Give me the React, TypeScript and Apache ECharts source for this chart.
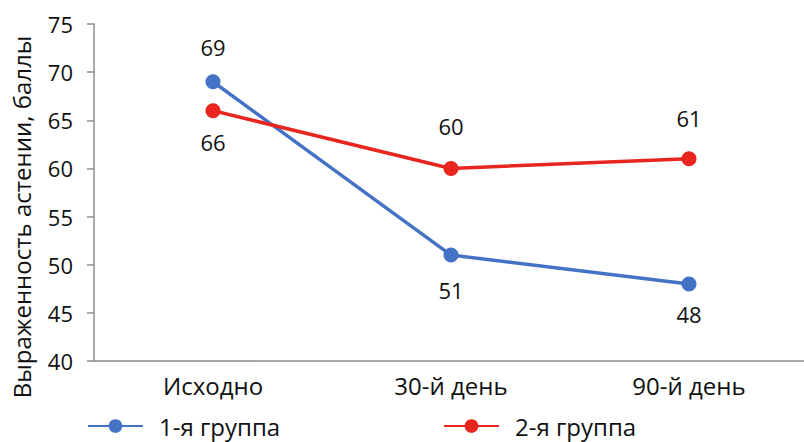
import React, { useEffect, useRef } from "react";
import * as echarts from "echarts";

const categories = ["Исходно", "30-й день", "90-й день"];
const group1 = [69, 51, 48];
const group2 = [66, 60, 61];
const group1LabelPos = ["top", "bottom", "bottom"];
const group2LabelPos = ["bottom", "top", "top"];
const seriesNames = ["1-я группа", "2-я группа"];
const yTitle = "Выраженность астении, баллы";

const FONT = "'Open Sans', 'Noto Sans', sans-serif";
const BLUE = "#4472C4";
const RED = "#E8251F";
const AXIS = "#8c8c8c";
const TEXT = "#111";

// gap between marker and its value label, per point
const group1Gap = [16, 16, 12];
const group2Gap = [13, 24, 22];

const pointData = (values: number[], positions: string[], gaps: number[]) =>
  values.map((v, i) => ({
    value: v,
    label: { position: positions[i], distance: gaps[i] },
  }));

export default function App() {
  const ref = useRef<HTMLDivElement>(null);

  useEffect(() => {
    if (!ref.current) return;
    const chart = echarts.init(ref.current, undefined, { renderer: "svg" });
    const numStyle = { fontFamily: FONT, fontSize: 22, color: TEXT };
    const wordStyle = { fontFamily: FONT, fontSize: 24, color: TEXT };
    const legendItem = (name: string, left: number) => ({
      data: [name],
      left,
      top: 414,
      padding: 0,
      itemWidth: 55,
      itemHeight: 17,
      textStyle: { ...wordStyle, padding: [0, 0, 0, 11] },
    });
    chart.setOption({
      animation: false,
      textStyle: { fontFamily: FONT },
      grid: { left: 94, right: 0, top: 24, bottom: 81 },
      legend: [legendItem(seriesNames[0], 87), legendItem(seriesNames[1], 443)],
      xAxis: {
        type: "category",
        data: categories,
        boundaryGap: true,
        axisLine: { lineStyle: { color: AXIS, width: 1.5 } },
        axisTick: { show: false },
        axisLabel: { ...wordStyle, margin: 12 },
      },
      yAxis: {
        type: "value",
        min: 40,
        max: 75,
        interval: 5,
        axisLine: { show: true, lineStyle: { color: AXIS, width: 1.5 } },
        axisTick: { show: true, length: 7, lineStyle: { color: AXIS, width: 1.5 } },
        axisLabel: { ...numStyle, margin: 21 },
        splitLine: { show: false },
      },
      graphic: [
        {
          type: "text",
          x: 21,
          y: 217,
          rotation: Math.PI / 2,
          style: {
            text: yTitle,
            font: `24px ${FONT}`,
            fill: TEXT,
            align: "center",
            verticalAlign: "middle",
          },
        },
      ],
      series: [
        {
          name: seriesNames[0],
          type: "line",
          data: pointData(group1, group1LabelPos, group1Gap),
          symbol: "circle",
          symbolSize: 15,
          lineStyle: { color: BLUE, width: 3.5 },
          itemStyle: { color: BLUE },
          label: { show: true, ...numStyle },
          z: 3,
        },
        {
          name: seriesNames[1],
          type: "line",
          data: pointData(group2, group2LabelPos, group2Gap),
          symbol: "circle",
          symbolSize: 15,
          lineStyle: { color: RED, width: 3.5 },
          itemStyle: { color: RED },
          label: { show: true, ...numStyle },
          z: 4,
        },
      ],
    });
    return () => chart.dispose();
  }, []);

  // the plot runs slightly past the right edge of the visible frame
  return (
    <div style={{ width: 804, height: 442, position: "absolute", left: 0, top: 0, overflow: "hidden" }}>
      <div ref={ref} style={{ width: 808, height: 442 }} />
    </div>
  );
}
